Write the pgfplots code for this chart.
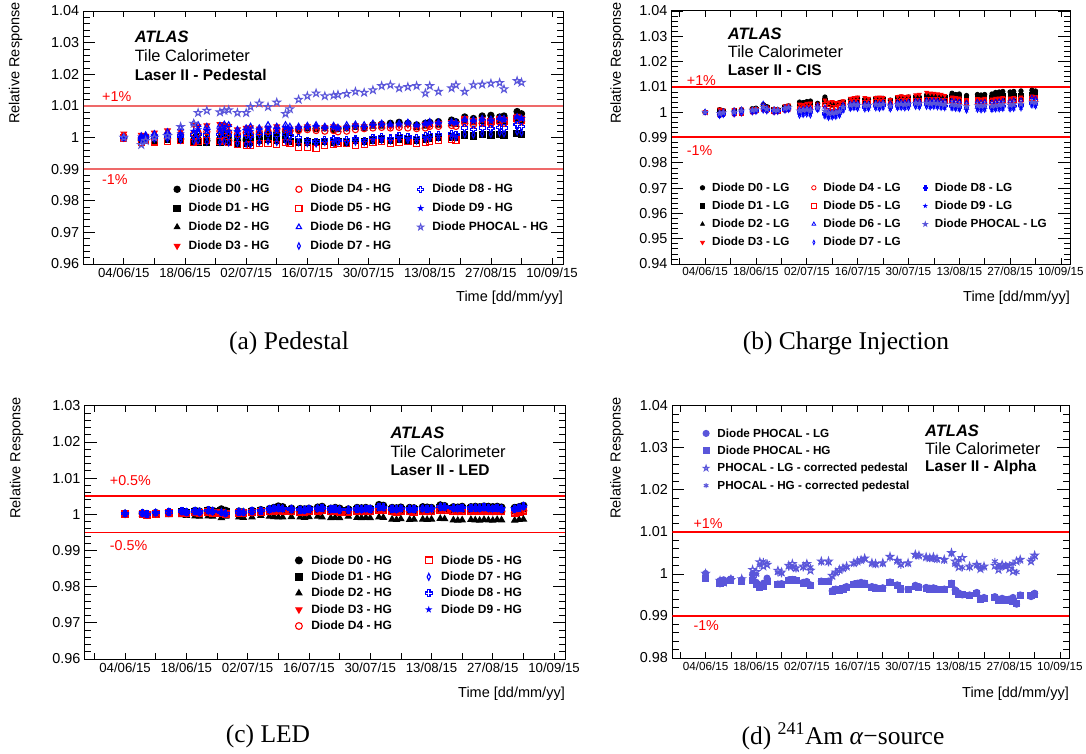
\documentclass[border=0pt]{standalone}
\usepackage{pgfplots}
\pgfplotsset{compat=1.18}
\usepackage{pgfplotstable}
\usepackage{fontspec}
\setmainfont{Liberation Sans}
\newfontfamily\capfont{Liberation Serif}
\newcommand\fs[1]{\fontsize{#1}{#1}\selectfont}

\definecolor{phocal}{RGB}{90,86,218}
\definecolor{limred}{RGB}{238,105,105}
\definecolor{rootred}{RGB}{255,0,0}

% ROOT-like markers: outlined cross, filled cross, filled and open five-point stars
\pgfdeclareplotmark{ocross}{%
  \pgfpathmoveto{\pgfqpoint{-0.35\pgfplotmarksize}{\pgfplotmarksize}}%
  \pgfpathlineto{\pgfqpoint{0.35\pgfplotmarksize}{\pgfplotmarksize}}%
  \pgfpathlineto{\pgfqpoint{0.35\pgfplotmarksize}{0.35\pgfplotmarksize}}%
  \pgfpathlineto{\pgfqpoint{\pgfplotmarksize}{0.35\pgfplotmarksize}}%
  \pgfpathlineto{\pgfqpoint{\pgfplotmarksize}{-0.35\pgfplotmarksize}}%
  \pgfpathlineto{\pgfqpoint{0.35\pgfplotmarksize}{-0.35\pgfplotmarksize}}%
  \pgfpathlineto{\pgfqpoint{0.35\pgfplotmarksize}{-\pgfplotmarksize}}%
  \pgfpathlineto{\pgfqpoint{-0.35\pgfplotmarksize}{-\pgfplotmarksize}}%
  \pgfpathlineto{\pgfqpoint{-0.35\pgfplotmarksize}{-0.35\pgfplotmarksize}}%
  \pgfpathlineto{\pgfqpoint{-\pgfplotmarksize}{-0.35\pgfplotmarksize}}%
  \pgfpathlineto{\pgfqpoint{-\pgfplotmarksize}{0.35\pgfplotmarksize}}%
  \pgfpathlineto{\pgfqpoint{-0.35\pgfplotmarksize}{0.35\pgfplotmarksize}}%
  \pgfpathclose\pgfusepathqstroke}
\pgfdeclareplotmark{focross}{%
  \pgfpathmoveto{\pgfqpoint{-0.35\pgfplotmarksize}{\pgfplotmarksize}}%
  \pgfpathlineto{\pgfqpoint{0.35\pgfplotmarksize}{\pgfplotmarksize}}%
  \pgfpathlineto{\pgfqpoint{0.35\pgfplotmarksize}{0.35\pgfplotmarksize}}%
  \pgfpathlineto{\pgfqpoint{\pgfplotmarksize}{0.35\pgfplotmarksize}}%
  \pgfpathlineto{\pgfqpoint{\pgfplotmarksize}{-0.35\pgfplotmarksize}}%
  \pgfpathlineto{\pgfqpoint{0.35\pgfplotmarksize}{-0.35\pgfplotmarksize}}%
  \pgfpathlineto{\pgfqpoint{0.35\pgfplotmarksize}{-\pgfplotmarksize}}%
  \pgfpathlineto{\pgfqpoint{-0.35\pgfplotmarksize}{-\pgfplotmarksize}}%
  \pgfpathlineto{\pgfqpoint{-0.35\pgfplotmarksize}{-0.35\pgfplotmarksize}}%
  \pgfpathlineto{\pgfqpoint{-\pgfplotmarksize}{-0.35\pgfplotmarksize}}%
  \pgfpathlineto{\pgfqpoint{-\pgfplotmarksize}{0.35\pgfplotmarksize}}%
  \pgfpathlineto{\pgfqpoint{-0.35\pgfplotmarksize}{0.35\pgfplotmarksize}}%
  \pgfpathclose\pgfusepathqfillstroke}
\newcommand\starpath{%
  \pgfpathmoveto{\pgfqpoint{0pt}{\pgfplotmarksize}}%
  \pgfpathlineto{\pgfqpoint{-0.2245\pgfplotmarksize}{0.309\pgfplotmarksize}}%
  \pgfpathlineto{\pgfqpoint{-0.951\pgfplotmarksize}{0.309\pgfplotmarksize}}%
  \pgfpathlineto{\pgfqpoint{-0.363\pgfplotmarksize}{-0.118\pgfplotmarksize}}%
  \pgfpathlineto{\pgfqpoint{-0.588\pgfplotmarksize}{-0.809\pgfplotmarksize}}%
  \pgfpathlineto{\pgfqpoint{0pt}{-0.382\pgfplotmarksize}}%
  \pgfpathlineto{\pgfqpoint{0.588\pgfplotmarksize}{-0.809\pgfplotmarksize}}%
  \pgfpathlineto{\pgfqpoint{0.363\pgfplotmarksize}{-0.118\pgfplotmarksize}}%
  \pgfpathlineto{\pgfqpoint{0.951\pgfplotmarksize}{0.309\pgfplotmarksize}}%
  \pgfpathlineto{\pgfqpoint{0.2245\pgfplotmarksize}{0.309\pgfplotmarksize}}%
  \pgfpathclose}
\pgfdeclareplotmark{fstar}{\starpath\pgfusepathqfillstroke}
\pgfdeclareplotmark{ostar}{\starpath\pgfusepathqstroke}

\tikzset{
  sD0/.style={only marks, black, mark=*},
  sD1/.style={only marks, black, mark=square*},
  sD2/.style={only marks, black, mark=triangle*},
  sD3/.style={only marks, rootred, mark=triangle*, mark options={rotate=180}},
  sD4/.style={only marks, rootred, mark=o},
  sD5/.style={only marks, rootred, mark=square},
  sD6/.style={only marks, blue, mark=triangle},
  sD7/.style={only marks, blue, mark=diamond, mark options={xscale=0.65}},
  sD8/.style={only marks, blue, mark=ocross},
  sD8f/.style={only marks, blue, mark=focross},
  sD9/.style={only marks, blue, mark=fstar},
  sPHo/.style={only marks, phocal, mark=ostar},
  sPHf/.style={only marks, phocal, mark=fstar},
  sPc/.style={only marks, phocal, mark=*},
  sPs/.style={only marks, phocal, mark=square*},
  sPa/.style={only marks, phocal, mark=asterisk},
  limitline/.style={draw=rootred, line width=1.6pt, mark=none},
}

\pgfplotsset{
  atlas/.style={
    scale only axis, enlargelimits=false, clip=true,
    xmin=-9.2, xmax=100.5,
    xtick={0,14,...,98},
    xticklabels={04/06/15,18/06/15,02/07/15,16/07/15,30/07/15,13/08/15,27/08/15,10/09/15},
    minor xtick={-7,0,...,98},
    major x tick style={draw=none},
    minor y tick num=4,
    major tick length=11.7pt, minor tick length=6.3pt,
    tick style={black, line width=0.7pt},
    axis line style={line width=1pt},
    yticklabel style={font=\fs{14.4}, inner sep=0pt, xshift=-4.2pt},
    xticklabel style={inner sep=0pt, anchor=center},
    xlabel={Time [dd/mm/yy]}, ylabel={Relative Response},
    label style={font=\fs{14.5}, inner sep=0pt},
    legend image code/.code={\draw[##1] plot coordinates {(0pt,0pt)};},
    legend style={draw=none, fill=none, inner sep=0pt, outer sep=0pt,
      anchor=north west, cells={anchor=west},
      nodes={inner sep=0pt, text height=0.86em, text depth=0.14em}},
  },
}

% Limit lines: y = 1 +/- 1% and 1 +/- 0.5%
\pgfplotstableread{
x up dn hup hdn
-9.2 1.01 0.99 1.005 0.995
100.5 1.01 0.99 1.005 0.995
}\tabLim

% Pedestal runs, high gain
\pgfplotstableread{
t D0 D1 D2 D3 D4 D5 D6 D7 D8 D9 PH
0 1.0000 1.0000 1.0001 1.0012 1.0003 0.9998 1.0002 0.9999 1.0000 1.0001 1.0000
4 0.9992 0.9990 0.9995 1.0008 0.9998 0.9985 1.0005 0.9990 0.9995 1.0002 0.9977
5 1.0000 0.9994 0.9998 1.0005 1.0002 0.9990 1.0008 0.9993 0.9999 1.0004 0.9990
7 0.9996 0.9991 0.9999 1.0015 1.0004 0.9986 1.0012 0.9995 1.0002 1.0006 1.0000
10 0.9998 0.9994 1.0003 1.0022 1.0010 0.9988 1.0018 0.9996 1.0005 1.0010 1.0005
13 0.9995 0.9990 1.0002 1.0020 1.0008 0.9990 1.0030 0.9992 1.0005 1.0012 1.0034
16 0.9990 0.9985 1.0000 1.0040 1.0012 0.9985 1.0045 0.9988 1.0008 1.0020 1.0044
17 0.9992 0.9986 1.0003 1.0035 1.0015 0.9988 1.0040 0.9990 1.0010 1.0025 1.0078
19 0.9990 0.9984 1.0002 1.0038 1.0018 0.9990 1.0035 0.9986 1.0008 1.0022 1.0085
22 0.9988 0.9985 1.0005 1.0042 1.0020 0.9987 1.0038 0.9985 1.0010 1.0025 1.0080
23 0.9992 0.9988 1.0008 1.0040 1.0022 0.9990 1.0042 0.9988 1.0012 1.0028 1.0085
24 0.9990 0.9984 1.0004 1.0036 1.0016 0.9985 1.0040 0.9984 1.0006 1.0020 1.0087
26 0.9988 0.9980 1.0000 1.0025 1.0010 0.9978 1.0025 0.9982 1.0004 1.0018 1.0078
28 0.9992 0.9982 1.0003 1.0030 1.0015 0.9975 1.0030 0.9980 1.0006 1.0022 1.0078
29 1.0000 0.9985 1.0005 1.0032 1.0012 0.9976 1.0035 0.9978 1.0005 1.0020 1.0097
31 1.0010 0.9990 1.0008 1.0028 1.0018 0.9980 1.0030 0.9985 1.0010 1.0025 1.0108
33 1.0015 0.9995 1.0010 1.0030 1.0020 0.9982 1.0040 0.9988 1.0012 1.0028 1.0097
35 1.0015 0.9990 1.0010 1.0035 1.0025 0.9978 1.0035 0.9985 1.0008 1.0026 1.0111
37 1.0020 0.9995 1.0015 1.0030 1.0025 0.9985 1.0040 0.9990 1.0010 1.0030 1.0075
38 1.0022 0.9988 1.0012 1.0028 1.0020 0.9980 1.0035 0.9988 1.0006 1.0026 1.0090
40 1.0025 0.9985 1.0030 1.0030 1.0022 0.9970 1.0035 0.9984 1.0000 1.0030 1.0120
42 1.0030 0.9986 1.0028 1.0035 1.0025 0.9968 1.0038 0.9982 0.9990 1.0032 1.0131
44 1.0028 0.9984 1.0032 1.0030 1.0022 0.9965 1.0040 0.9980 0.9988 1.0035 1.0140
46 1.0030 0.9988 1.0028 1.0032 1.0020 0.9975 1.0035 0.9985 0.9992 1.0030 1.0131
48 1.0025 0.9985 1.0030 1.0035 1.0022 0.9978 1.0038 0.9984 0.9995 1.0032 1.0133
49 1.0028 0.9988 1.0025 1.0030 1.0018 0.9980 1.0032 0.9986 0.9990 1.0028 1.0135
51 1.0030 0.9985 1.0030 1.0032 1.0020 0.9982 1.0040 0.9984 0.9992 1.0030 1.0138
53 1.0035 0.9990 1.0032 1.0038 1.0025 0.9975 1.0042 0.9986 0.9995 1.0035 1.0145
55 1.0032 0.9988 1.0028 1.0035 1.0028 0.9978 1.0040 0.9985 0.9990 1.0032 1.0142
57 1.0040 0.9992 1.0035 1.0040 1.0030 0.9985 1.0045 0.9990 1.0000 1.0038 1.0150
59 1.0042 0.9995 1.0035 1.0042 1.0032 0.9988 1.0045 0.9992 1.0002 1.0040 1.0163
61 1.0045 0.9990 1.0040 1.0035 1.0030 0.9982 1.0042 0.9990 0.9998 1.0040 1.0166
63 1.0048 0.9995 1.0042 1.0038 1.0032 0.9985 1.0045 0.9995 1.0005 1.0042 1.0156
65 1.0045 0.9992 1.0040 1.0040 1.0030 0.9988 1.0048 0.9992 1.0002 1.0045 1.0160
67 1.0040 0.9990 1.0030 1.0035 1.0028 0.9980 1.0040 0.9990 1.0000 1.0038 1.0163
69 1.0045 0.9995 1.0035 1.0042 1.0030 0.9985 1.0045 0.9995 1.0005 1.0042 1.0140
70 1.0048 0.9998 1.0040 1.0040 1.0035 0.9988 1.0050 0.9998 1.0008 1.0045 1.0163
72 1.0050 1.0000 1.0038 1.0045 1.0035 0.9990 1.0048 1.0000 1.0010 1.0045 1.0145
75 1.0055 1.0002 1.0042 1.0048 1.0038 0.9995 1.0050 1.0002 1.0012 1.0048 1.0156
76 1.0050 1.0000 1.0040 1.0045 1.0035 0.9992 1.0048 1.0000 1.0010 1.0045 1.0166
78 1.0065 1.0008 1.0050 1.0060 1.0045 1.0055 1.0058 1.0010 1.0030 1.0055 1.0145
80 1.0060 1.0005 1.0045 1.0055 1.0040 1.0050 1.0055 1.0008 1.0025 1.0052 1.0166
82 1.0068 1.0010 1.0050 1.0058 1.0045 1.0048 1.0060 1.0012 1.0030 1.0055 1.0168
84 1.0070 1.0008 1.0048 1.0055 1.0042 1.0050 1.0058 1.0010 1.0028 1.0052 1.0171
86 1.0065 1.0010 1.0052 1.0060 1.0048 1.0055 1.0062 1.0015 1.0032 1.0058 1.0173
87 1.0068 1.0008 1.0050 1.0058 1.0045 1.0052 1.0060 1.0012 1.0030 1.0055 1.0153
90 1.0082 1.0012 1.0055 1.0068 1.0055 1.0060 1.0065 1.0018 1.0040 1.0065 1.0179
91 1.0075 1.0010 1.0050 1.0062 1.0050 1.0055 1.0060 1.0015 1.0035 1.0060 1.0174
}\tabA

% Charge injection runs, low gain
\pgfplotstableread{
t D0 D1 D2 D3 D4 D5 D6 D7 D8 D9 PH
0 1.0000 1.0000 1.0000 1.0002 0.9998 0.9999 1.0003 0.9999 1.0001 1.0000 1.0000
4 1.0010 1.0008 1.0005 1.0012 0.9988 0.9992 1.0000 0.9984 0.9990 0.9988 0.9995
5 1.0006 1.0004 1.0002 1.0008 0.9992 0.9996 1.0004 0.9988 0.9994 0.9992 0.9998
8 1.0008 1.0006 1.0004 1.0010 0.9992 0.9995 1.0008 0.9990 0.9998 0.9994 1.0000
10 1.0010 1.0008 1.0006 1.0012 0.9994 0.9998 1.0012 0.9994 1.0004 0.9998 1.0005
13 1.0014 1.0010 1.0008 1.0012 1.0000 1.0002 1.0010 0.9998 1.0006 1.0002 1.0008
14 1.0016 1.0012 1.0010 1.0014 1.0004 1.0006 1.0008 1.0000 1.0008 1.0004 1.0010
16 1.0030 1.0025 1.0020 1.0028 1.0010 1.0015 1.0035 1.0005 1.0015 1.0010 1.0020
17 1.0022 1.0018 1.0014 1.0020 1.0006 1.0010 1.0018 1.0002 1.0010 1.0006 1.0012
19 1.0012 1.0010 1.0008 1.0014 1.0000 1.0004 1.0012 0.9998 1.0006 1.0002 1.0008
20 1.0010 1.0008 1.0006 1.0012 1.0002 1.0004 1.0010 1.0000 1.0006 1.0004 1.0008
22 1.0022 1.0018 1.0015 1.0025 1.0008 1.0012 1.0020 1.0005 1.0012 1.0008 1.0015
23 1.0025 1.0020 1.0018 1.0028 1.0010 1.0015 1.0022 1.0008 1.0014 1.0010 1.0018
26 1.0040 1.0035 1.0030 1.0032 1.0010 1.0015 1.0012 0.9985 1.0000 0.9990 1.0005
27 1.0038 1.0032 1.0028 1.0030 1.0012 1.0018 1.0015 0.9988 1.0003 0.9992 1.0008
28 1.0042 1.0036 1.0030 1.0035 1.0015 1.0020 1.0018 0.9990 1.0005 0.9995 1.0010
29 1.0044 1.0038 1.0032 1.0036 1.0014 1.0018 1.0016 0.9986 1.0002 0.9992 1.0006
31 1.0035 1.0030 1.0025 1.0032 1.0018 1.0020 1.0028 1.0008 1.0015 1.0010 1.0018
33 1.0060 1.0045 1.0040 1.0048 1.0025 1.0030 1.0020 0.9982 0.9995 0.9985 1.0005
34 1.0035 1.0032 1.0028 1.0040 1.0015 1.0022 1.0005 0.9976 0.9988 0.9980 0.9995
35 1.0036 1.0030 1.0025 1.0042 1.0012 1.0020 1.0002 0.9978 0.9990 0.9982 0.9996
36 1.0034 1.0030 1.0026 1.0038 1.0014 1.0018 1.0005 0.9980 0.9992 0.9984 0.9998
37 1.0038 1.0034 1.0030 1.0040 1.0018 1.0024 1.0010 0.9985 0.9996 0.9988 1.0002
38 1.0040 1.0036 1.0032 1.0045 1.0025 1.0030 1.0030 1.0005 1.0015 1.0008 1.0020
40 1.0050 1.0045 1.0040 1.0055 1.0030 1.0038 1.0035 1.0012 1.0022 1.0015 1.0028
41 1.0052 1.0046 1.0042 1.0058 1.0032 1.0040 1.0038 1.0015 1.0025 1.0018 1.0030
42 1.0055 1.0048 1.0044 1.0060 1.0030 1.0040 1.0036 1.0012 1.0022 1.0016 1.0028
44 1.0052 1.0046 1.0040 1.0058 1.0028 1.0038 1.0035 1.0010 1.0020 1.0014 1.0026
45 1.0050 1.0045 1.0042 1.0055 1.0030 1.0036 1.0034 1.0012 1.0022 1.0015 1.0027
47 1.0055 1.0050 1.0044 1.0058 1.0032 1.0040 1.0038 1.0014 1.0024 1.0018 1.0030
48 1.0052 1.0048 1.0042 1.0060 1.0030 1.0038 1.0036 1.0012 1.0022 1.0016 1.0028
49 1.0055 1.0050 1.0045 1.0058 1.0034 1.0042 1.0040 1.0016 1.0026 1.0020 1.0032
51 1.0048 1.0044 1.0040 1.0050 1.0028 1.0035 1.0035 1.0010 1.0020 1.0014 1.0025
53 1.0058 1.0052 1.0046 1.0062 1.0035 1.0042 1.0040 1.0015 1.0025 1.0018 1.0030
54 1.0060 1.0054 1.0048 1.0065 1.0036 1.0044 1.0042 1.0016 1.0026 1.0020 1.0032
55 1.0058 1.0052 1.0046 1.0062 1.0034 1.0042 1.0040 1.0014 1.0024 1.0018 1.0030
56 1.0060 1.0055 1.0048 1.0064 1.0036 1.0044 1.0042 1.0016 1.0026 1.0020 1.0032
58 1.0062 1.0056 1.0050 1.0068 1.0040 1.0046 1.0045 1.0020 1.0030 1.0024 1.0035
59 1.0060 1.0054 1.0048 1.0070 1.0038 1.0045 1.0044 1.0018 1.0028 1.0022 1.0034
61 1.0068 1.0060 1.0054 1.0078 1.0042 1.0050 1.0048 1.0020 1.0030 1.0024 1.0036
62 1.0065 1.0058 1.0052 1.0075 1.0040 1.0048 1.0046 1.0018 1.0028 1.0022 1.0034
63 1.0066 1.0060 1.0054 1.0074 1.0042 1.0050 1.0048 1.0020 1.0030 1.0024 1.0036
64 1.0064 1.0058 1.0052 1.0072 1.0040 1.0048 1.0046 1.0018 1.0028 1.0022 1.0034
65 1.0065 1.0058 1.0050 1.0070 1.0040 1.0046 1.0045 1.0016 1.0026 1.0020 1.0032
66 1.0062 1.0056 1.0050 1.0066 1.0038 1.0045 1.0044 1.0015 1.0025 1.0018 1.0030
68 1.0075 1.0062 1.0054 1.0060 1.0040 1.0048 1.0046 1.0014 1.0024 1.0016 1.0030
69 1.0070 1.0060 1.0052 1.0058 1.0038 1.0046 1.0044 1.0012 1.0022 1.0015 1.0028
70 1.0072 1.0060 1.0050 1.0056 1.0036 1.0044 1.0042 1.0010 1.0020 1.0012 1.0026
72 1.0066 1.0055 1.0046 1.0050 1.0032 1.0040 1.0038 1.0005 1.0016 1.0008 1.0022
75 1.0070 1.0058 1.0048 1.0054 1.0036 1.0044 1.0042 1.0008 1.0020 1.0012 1.0026
76 1.0068 1.0056 1.0046 1.0052 1.0034 1.0042 1.0040 1.0006 1.0018 1.0010 1.0024
77 1.0070 1.0058 1.0050 1.0055 1.0036 1.0044 1.0042 1.0008 1.0020 1.0012 1.0026
79 1.0072 1.0058 1.0048 1.0052 1.0034 1.0042 1.0040 1.0008 1.0018 1.0010 1.0024
80 1.0078 1.0062 1.0050 1.0055 1.0036 1.0044 1.0042 1.0010 1.0020 1.0012 1.0026
81 1.0080 1.0064 1.0052 1.0056 1.0038 1.0046 1.0044 1.0010 1.0022 1.0014 1.0028
82 1.0082 1.0065 1.0052 1.0058 1.0040 1.0048 1.0046 1.0012 1.0024 1.0015 1.0030
84 1.0080 1.0064 1.0050 1.0056 1.0038 1.0046 1.0044 1.0010 1.0022 1.0014 1.0028
85 1.0082 1.0066 1.0054 1.0058 1.0040 1.0048 1.0048 1.0012 1.0024 1.0016 1.0030
87 1.0084 1.0066 1.0054 1.0060 1.0042 1.0050 1.0048 1.0014 1.0026 1.0018 1.0032
90 1.0087 1.0070 1.0058 1.0064 1.0048 1.0055 1.0058 1.0025 1.0035 1.0028 1.0040
91 1.0084 1.0068 1.0056 1.0062 1.0046 1.0052 1.0055 1.0022 1.0032 1.0025 1.0038
}\tabB

% LED runs, high gain
\pgfplotstableread{
t D0 D1 D2 D3 D4 D5 D7 D8 D9
0 1.0002 1.0001 1.0000 1.0001 1.0001 1.0000 1.0002 1.0002 1.0002
4 1.0003 1.0002 1.0000 1.0002 1.0001 1.0001 1.0003 1.0003 1.0003
5 1.0000 0.9999 0.9997 0.9999 0.9998 0.9998 1.0000 1.0000 1.0000
7 1.0004 1.0002 0.9996 1.0002 1.0001 1.0001 1.0004 1.0005 1.0004
10 1.0006 1.0004 0.9998 1.0004 1.0003 1.0003 1.0006 1.0006 1.0007
13 1.0008 1.0006 0.9998 1.0006 1.0004 1.0004 1.0008 1.0009 1.0008
14 1.0006 1.0004 0.9996 1.0003 1.0002 1.0002 1.0006 1.0006 1.0005
16 1.0010 1.0007 0.9995 1.0006 1.0005 1.0005 1.0008 1.0009 1.0008
17 1.0008 1.0005 0.9994 1.0004 1.0003 1.0003 1.0006 1.0006 1.0007
19 1.0012 1.0008 0.9995 1.0007 1.0006 1.0006 1.0010 1.0011 1.0010
20 1.0010 1.0006 0.9994 1.0005 1.0004 1.0004 1.0008 1.0008 1.0009
22 1.0014 1.0008 0.9990 1.0006 1.0004 1.0004 1.0006 1.0005 1.0006
23 1.0010 1.0006 0.9994 1.0002 1.0000 1.0001 1.0003 1.0002 1.0003
26 1.0008 1.0005 0.9992 1.0005 1.0004 1.0004 1.0007 1.0006 1.0007
27 1.0006 1.0004 0.9991 1.0004 1.0003 1.0003 1.0006 1.0005 1.0006
29 1.0010 1.0006 0.9992 1.0006 1.0005 1.0005 1.0008 1.0008 1.0009
31 1.0012 1.0008 0.9996 1.0007 1.0006 1.0006 1.0010 1.0010 1.0010
33 1.0015 1.0010 0.9994 1.0010 1.0008 1.0008 1.0013 1.0014 1.0013
34 1.0018 1.0012 0.9993 1.0012 1.0010 1.0010 1.0016 1.0016 1.0017
35 1.0022 1.0014 0.9992 1.0013 1.0011 1.0011 1.0017 1.0018 1.0017
36 1.0020 1.0013 0.9992 1.0012 1.0010 1.0010 1.0016 1.0016 1.0015
38 1.0016 1.0010 0.9993 1.0010 1.0008 1.0008 1.0014 1.0014 1.0014
40 1.0015 1.0010 0.9992 1.0009 1.0007 1.0007 1.0013 1.0013 1.0012
41 1.0014 1.0009 0.9991 1.0008 1.0006 1.0006 1.0012 1.0012 1.0012
42 1.0016 1.0011 0.9993 1.0010 1.0008 1.0008 1.0014 1.0015 1.0014
44 1.0019 1.0013 0.9994 1.0012 1.0010 1.0010 1.0016 1.0016 1.0017
45 1.0021 1.0014 0.9992 1.0013 1.0011 1.0011 1.0017 1.0017 1.0017
47 1.0016 1.0011 0.9990 1.0010 1.0008 1.0008 1.0014 1.0014 1.0013
48 1.0018 1.0012 0.9991 1.0011 1.0009 1.0009 1.0015 1.0015 1.0015
49 1.0016 1.0010 0.9990 1.0009 1.0007 1.0007 1.0013 1.0013 1.0014
51 1.0014 1.0010 0.9994 1.0009 1.0007 1.0007 1.0013 1.0013 1.0013
53 1.0018 1.0012 0.9991 1.0011 1.0009 1.0009 1.0015 1.0015 1.0016
54 1.0017 1.0012 0.9990 1.0010 1.0008 1.0008 1.0014 1.0014 1.0014
55 1.0018 1.0013 0.9991 1.0011 1.0009 1.0009 1.0015 1.0016 1.0015
56 1.0016 1.0011 0.9990 1.0010 1.0008 1.0008 1.0014 1.0014 1.0014
58 1.0026 1.0018 0.9992 1.0015 1.0013 1.0013 1.0020 1.0021 1.0020
59 1.0024 1.0016 0.9991 1.0014 1.0012 1.0012 1.0019 1.0019 1.0019
61 1.0018 1.0012 0.9986 1.0010 1.0008 1.0008 1.0015 1.0015 1.0016
62 1.0017 1.0011 0.9985 1.0009 1.0007 1.0007 1.0014 1.0014 1.0014
63 1.0019 1.0013 0.9987 1.0011 1.0009 1.0009 1.0016 1.0016 1.0016
65 1.0018 1.0012 0.9985 1.0010 1.0008 1.0008 1.0015 1.0015 1.0015
66 1.0017 1.0011 0.9986 1.0009 1.0007 1.0007 1.0014 1.0015 1.0014
68 1.0020 1.0013 0.9986 1.0011 1.0009 1.0009 1.0016 1.0016 1.0017
69 1.0019 1.0012 0.9985 1.0010 1.0008 1.0008 1.0015 1.0015 1.0015
70 1.0018 1.0012 0.9986 1.0010 1.0008 1.0008 1.0015 1.0016 1.0015
72 1.0025 1.0018 0.9988 1.0015 1.0013 1.0013 1.0021 1.0021 1.0022
73 1.0023 1.0016 0.9987 1.0014 1.0012 1.0012 1.0020 1.0020 1.0020
75 1.0020 1.0014 0.9984 1.0011 1.0009 1.0009 1.0017 1.0017 1.0018
76 1.0019 1.0013 0.9983 1.0010 1.0008 1.0008 1.0016 1.0016 1.0016
77 1.0021 1.0014 0.9984 1.0011 1.0009 1.0009 1.0017 1.0018 1.0017
79 1.0020 1.0014 0.9985 1.0011 1.0009 1.0009 1.0017 1.0017 1.0017
80 1.0021 1.0015 0.9984 1.0012 1.0010 1.0010 1.0018 1.0018 1.0019
81 1.0020 1.0014 0.9983 1.0011 1.0009 1.0009 1.0017 1.0017 1.0017
82 1.0022 1.0015 0.9985 1.0012 1.0010 1.0010 1.0018 1.0019 1.0018
83 1.0021 1.0014 0.9984 1.0011 1.0009 1.0009 1.0017 1.0017 1.0017
84 1.0020 1.0013 0.9983 1.0010 1.0008 1.0008 1.0016 1.0016 1.0016
85 1.0021 1.0014 0.9985 1.0011 1.0009 1.0009 1.0017 1.0017 1.0018
86 1.0019 1.0013 0.9984 1.0010 1.0008 1.0008 1.0015 1.0015 1.0015
89 1.0018 1.0012 0.9983 1.0006 1.0004 1.0004 1.0015 1.0015 1.0015
90 1.0020 1.0014 0.9985 1.0008 1.0006 1.0006 1.0018 1.0018 1.0019
91 1.0024 1.0016 0.9986 1.0012 1.0010 1.0010 1.0022 1.0022 1.0022
}\tabC

% Alpha-source runs, PHOCAL diode
\pgfplotstableread{
t LG HG LGc HGc
0 1.0001 0.9990 1.0001 0.9990
4 0.9984 0.9978 0.9984 0.9976
5 0.9986 0.9980 0.9980 0.9984
7 0.9988 0.9984 0.9986 0.9990
10 0.9986 0.9981 0.9988 0.9982
13 0.9998 0.9985 1.0010 1.0000
14 0.9980 0.9975 1.0005 0.9998
15 0.9972 0.9968 1.0028 1.0020
16 0.9978 0.9970 1.0018 1.0030
17 0.9990 0.9982 1.0022 1.0026
20 0.9976 0.9974 1.0008 1.0002
21 0.9977 0.9975 1.0004 1.0000
23 0.9986 0.9985 1.0020 1.0016
24 0.9987 0.9986 1.0024 1.0015
25 0.9985 0.9984 1.0014 1.0012
27 0.9980 0.9978 1.0018 1.0014
28 0.9982 0.9980 1.0024 1.0022
29 0.9974 0.9972 1.0008 1.0016
32 0.9983 0.9982 1.0030 1.0028
34 0.9983 0.9982 1.0030 1.0026
35 0.9960 0.9958 0.9996 0.9992
36 0.9964 0.9962 1.0004 1.0002
37 0.9962 0.9960 1.0010 1.0006
38 0.9966 0.9964 1.0014 1.0012
39 0.9970 0.9968 1.0018 1.0016
41 0.9976 0.9974 1.0026 1.0024
42 0.9978 0.9976 1.0030 1.0028
43 0.9980 0.9978 1.0033 1.0032
44 0.9978 0.9976 1.0037 1.0035
46 0.9970 0.9968 1.0026 1.0024
47 0.9968 0.9966 1.0024 1.0022
49 0.9967 0.9965 1.0026 1.0024
51 0.9981 0.9980 1.0041 1.0038
53 0.9974 0.9972 1.0032 1.0030
54 0.9966 0.9964 1.0024 1.0020
56 0.9963 0.9962 1.0026 1.0024
58 0.9973 0.9971 1.0046 1.0044
59 0.9970 0.9968 1.0044 1.0042
61 0.9968 0.9966 1.0040 1.0038
62 0.9966 0.9964 1.0038 1.0036
63 0.9967 0.9965 1.0040 1.0037
64 0.9964 0.9962 1.0036 1.0034
66 0.9964 0.9962 1.0034 1.0032
68 0.9978 0.9976 1.0050 1.0048
69 0.9962 0.9958 1.0030 1.0022
70 0.9955 0.9952 1.0016 1.0032
71 0.9950 0.9952 1.0038 1.0014
73 0.9950 0.9948 1.0018 1.0014
75 0.9956 0.9954 1.0022 1.0020
76 0.9942 0.9940 1.0012 1.0014
77 0.9944 0.9942 1.0018 1.0016
80 0.9946 0.9944 1.0020 1.0030
81 0.9940 0.9938 1.0010 1.0018
82 0.9942 0.9940 1.0022 1.0016
83 0.9939 0.9937 1.0018 1.0020
84 0.9940 0.9938 1.0012 1.0022
85 0.9944 0.9935 1.0006 1.0024
86 0.9928 0.9930 1.0030 1.0004
87 0.9950 0.9948 1.0034 1.0032
90 0.9946 0.9948 1.0030 1.0034
91 0.9954 0.9952 1.0044 1.0040
}\tabD

\begin{document}
\begin{tikzpicture}
\useasboundingbox (0pt,0pt) rectangle (1086pt,-754pt);

% ---------------- (a) Pedestal ----------------
\begin{axis}[atlas, at={(83.6pt,-264pt)}, anchor=south west,
  width=479.4pt, height=253pt,
  ymin=0.96, ymax=1.04,
  ytick={0.96,0.97,0.98,0.99,1,1.01,1.02,1.03,1.04},
  yticklabels={0.96,0.97,0.98,0.99,1,1.01,1.02,1.03,1.04},
  xticklabel style={font=\fs{13.2}, yshift=-8.3pt},
  xlabel style={at={(axis description cs:1,-0.1344)}, anchor=east},
  ylabel style={at={(axis description cs:-0.1418,1.0356)}, anchor=east},
  every axis plot/.append style={mark size=3.1pt, line width=1.1pt},
  legend columns=3,
  legend style={at={(axis description cs:0.1886,0.315)}, font=\bfseries\fs{12},
    row sep=8.9pt, mark size=2.4pt, line width=1pt,
    /tikz/every odd column/.style={column sep=8.5pt},
    /tikz/every even column/.style={column sep=26.4pt}},
]
\addplot[limitline, draw=limred, line width=1.7pt, forget plot] table[x=x, y=up] {\tabLim};
\addplot[limitline, draw=limred, line width=1.7pt, forget plot] table[x=x, y=dn] {\tabLim};
\addplot[sD0, forget plot] table[x=t, y=D0] {\tabA};
\addplot[sD1, forget plot] table[x=t, y=D1] {\tabA};
\addplot[sD2, forget plot] table[x=t, y=D2] {\tabA};
\addplot[sD3, forget plot] table[x=t, y=D3] {\tabA};
\addplot[sD4, forget plot] table[x=t, y=D4] {\tabA};
\addplot[sD5, forget plot] table[x=t, y=D5] {\tabA};
\addplot[sD6, forget plot] table[x=t, y=D6] {\tabA};
\addplot[sD7, forget plot] table[x=t, y=D7] {\tabA};
\addplot[sD8, forget plot] table[x=t, y=D8] {\tabA};
\addplot[sD9, mark size=2.5pt, forget plot] table[x=t, y=D9] {\tabA};
\addplot[sPHo, mark size=3.8pt, forget plot] table[x=t, y=PH] {\tabA};
\addlegendimage{sD0}\addlegendentry{Diode D0 - HG}
\addlegendimage{sD4}\addlegendentry{Diode D4 - HG}
\addlegendimage{sD8}\addlegendentry{Diode D8 - HG}
\addlegendimage{sD1}\addlegendentry{Diode D1 - HG}
\addlegendimage{sD5}\addlegendentry{Diode D5 - HG}
\addlegendimage{sD9, mark size=2pt}\addlegendentry{Diode D9 - HG}
\addlegendimage{sD2}\addlegendentry{Diode D2 - HG}
\addlegendimage{sD6}\addlegendentry{Diode D6 - HG}
\addlegendimage{sPHo, mark size=3pt}\addlegendentry{Diode PHOCAL - HG}
\addlegendimage{sD3}\addlegendentry{Diode D3 - HG}
\addlegendimage{sD7}\addlegendentry{Diode D7 - HG}
\end{axis}

% ---------------- (b) Charge injection ----------------
\begin{axis}[atlas, at={(671.7pt,-264pt)}, anchor=south west,
  width=398.3pt, height=253pt,
  ymin=0.94, ymax=1.04,
  ytick={0.94,0.95,0.96,0.97,0.98,0.99,1,1.01,1.02,1.03,1.04},
  yticklabels={0.94,0.95,0.96,0.97,0.98,0.99,1,1.01,1.02,1.03,1.04},
  xticklabel style={font=\fs{11.7}, yshift=-7.7pt},
  xlabel style={at={(axis description cs:1,-0.1344)}, anchor=east},
  ylabel style={at={(axis description cs:-0.1373,1.0356)}, anchor=east},
  every axis plot/.append style={mark size=2.2pt, line width=0.8pt},
  legend columns=3,
  legend style={at={(axis description cs:0.0718,0.321)}, font=\bfseries\fs{11.7},
    row sep=8.2pt, mark size=1.8pt, line width=0.8pt,
    /tikz/every odd column/.style={column sep=7.4pt},
    /tikz/every even column/.style={column sep=22.2pt}},
]
\addplot[limitline, line width=2pt, forget plot] table[x=x, y=dn] {\tabLim};
\addplot[limitline, forget plot] table[x=x, y=up] {\tabLim};
\addplot[sD0, forget plot] table[x=t, y=D0] {\tabB};
\addplot[sD1, forget plot] table[x=t, y=D1] {\tabB};
\addplot[sD2, forget plot] table[x=t, y=D2] {\tabB};
\addplot[sD3, forget plot] table[x=t, y=D3] {\tabB};
\addplot[sD4, forget plot] table[x=t, y=D4] {\tabB};
\addplot[sD5, forget plot] table[x=t, y=D5] {\tabB};
\addplot[sD6, forget plot] table[x=t, y=D6] {\tabB};
\addplot[sD7, forget plot] table[x=t, y=D7] {\tabB};
\addplot[sD8f, forget plot] table[x=t, y=D8] {\tabB};
\addplot[sD9, mark size=1.8pt, forget plot] table[x=t, y=D9] {\tabB};
\addplot[sPHf, mark size=2.8pt, forget plot] table[x=t, y=PH] {\tabB};
\addlegendimage{sD0}\addlegendentry{Diode D0 - LG}
\addlegendimage{sD4}\addlegendentry{Diode D4 - LG}
\addlegendimage{sD8f}\addlegendentry{Diode D8 - LG}
\addlegendimage{sD1}\addlegendentry{Diode D1 - LG}
\addlegendimage{sD5}\addlegendentry{Diode D5 - LG}
\addlegendimage{sD9, mark size=1.4pt}\addlegendentry{Diode D9 - LG}
\addlegendimage{sD2}\addlegendentry{Diode D2 - LG}
\addlegendimage{sD6}\addlegendentry{Diode D6 - LG}
\addlegendimage{sPHf, mark size=2.4pt}\addlegendentry{Diode PHOCAL - LG}
\addlegendimage{sD3}\addlegendentry{Diode D3 - LG}
\addlegendimage{sD7}\addlegendentry{Diode D7 - LG}
\end{axis}

% ---------------- (c) LED ----------------
\begin{axis}[atlas, at={(84.8pt,-659pt)}, anchor=south west,
  width=480.2pt, height=253.3pt,
  ymin=0.96, ymax=1.03,
  ytick={0.96,0.97,0.98,0.99,1,1.01,1.02,1.03},
  yticklabels={0.96,0.97,0.98,0.99,1,1.01,1.02,1.03},
  xticklabel style={font=\fs{13.2}, yshift=-8.3pt},
  xlabel style={at={(axis description cs:1,-0.1382)}, anchor=east},
  ylabel style={at={(axis description cs:-0.1418,1.0355)}, anchor=east},
  every axis plot/.append style={mark size=3.4pt, line width=1.1pt},
  legend columns=2,
  legend style={at={(axis description cs:0.4388,0.409)}, font=\bfseries\fs{12},
    row sep=6.4pt, mark size=2.5pt, line width=1pt,
    /tikz/every odd column/.style={column sep=9pt},
    /tikz/every even column/.style={column sep=33.4pt}},
]
\addplot[sD0, forget plot] table[x=t, y=D0] {\tabC};
\addplot[sD1, forget plot] table[x=t, y=D1] {\tabC};
\addplot[sD2, forget plot] table[x=t, y=D2] {\tabC};
\addplot[sD3, forget plot] table[x=t, y=D3] {\tabC};
\addplot[sD4, forget plot] table[x=t, y=D4] {\tabC};
\addplot[sD5, forget plot] table[x=t, y=D5] {\tabC};
\addplot[sD7, forget plot] table[x=t, y=D7] {\tabC};
\addplot[sD8, forget plot] table[x=t, y=D8] {\tabC};
\addplot[sD9, mark size=2.8pt, forget plot] table[x=t, y=D9] {\tabC};
\addplot[limitline, forget plot] table[x=x, y=hup] {\tabLim};
\addplot[limitline, forget plot] table[x=x, y=hdn] {\tabLim};
\addlegendimage{sD0}\addlegendentry{Diode D0 - HG}
\addlegendimage{sD5}\addlegendentry{Diode D5 - HG}
\addlegendimage{sD1}\addlegendentry{Diode D1 - HG}
\addlegendimage{sD7}\addlegendentry{Diode D7 - HG}
\addlegendimage{sD2}\addlegendentry{Diode D2 - HG}
\addlegendimage{sD8}\addlegendentry{Diode D8 - HG}
\addlegendimage{sD3}\addlegendentry{Diode D3 - HG}
\addlegendimage{sD9, mark size=2pt}\addlegendentry{Diode D9 - HG}
\addlegendimage{sD4}\addlegendentry{Diode D4 - HG}
\end{axis}

% ---------------- (d) Alpha source ----------------
\begin{axis}[atlas, at={(672.3pt,-658pt)}, anchor=south west,
  width=396.7pt, height=252.3pt,
  ymin=0.98, ymax=1.04,
  ytick={0.98,0.99,1,1.01,1.02,1.03,1.04},
  yticklabels={0.98,0.99,1,1.01,1.02,1.03,1.04},
  xticklabel style={font=\fs{11.7}, yshift=-8.7pt},
  xlabel style={at={(axis description cs:1,-0.1427)}, anchor=east},
  ylabel style={at={(axis description cs:-0.1397,1.0357)}, anchor=east},
  every axis plot/.append style={mark size=3pt, line width=1.1pt},
  legend columns=1,
  legend style={at={(axis description cs:0.0776,0.91)}, font=\bfseries\fs{11.7},
    row sep=7.4pt, mark size=2.3pt, line width=1pt,
    /tikz/every odd column/.style={column sep=8.4pt}},
]
\addplot[sPc, forget plot] table[x=t, y=LG] {\tabD};
\addplot[sPs, forget plot] table[x=t, y=HG] {\tabD};
\addplot[sPHo, mark size=3.7pt, forget plot] table[x=t, y=LGc] {\tabD};
\addplot[sPa, mark size=3.4pt, forget plot] table[x=t, y=HGc] {\tabD};
\addplot[limitline, forget plot] table[x=x, y=up] {\tabLim};
\addplot[limitline, forget plot] table[x=x, y=dn] {\tabLim};
\addlegendimage{sPc}\addlegendentry{Diode PHOCAL - LG}
\addlegendimage{sPs}\addlegendentry{Diode PHOCAL - HG}
\addlegendimage{sPHo, mark size=2.8pt}\addlegendentry{PHOCAL - LG - corrected pedestal}
\addlegendimage{sPa, mark size=2.6pt}\addlegendentry{PHOCAL - HG - corrected pedestal}
\end{axis}

% ---------------- labels inside the frames ----------------
\begin{scope}[every node/.style={inner sep=0pt, anchor=base west}]
\node[font=\fs{16.5}\bfseries\itshape] at (134.6pt,-42.6pt) {ATLAS};
\node[font=\fs{16.4}] at (134.6pt,-61.9pt) {Tile Calorimeter};
\node[font=\fs{15.5}\bfseries] at (134.6pt,-80.3pt) {Laser II - Pedestal};
\node[font=\fs{14.3}, text=rootred] at (102pt,-101.8pt) {+1\%};
\node[font=\fs{14.3}, text=rootred] at (102pt,-184.4pt) {-1\%};

\node[font=\fs{16.5}\bfseries\itshape] at (727.7pt,-39.2pt) {ATLAS};
\node[font=\fs{16.4}] at (727.7pt,-57.6pt) {Tile Calorimeter};
\node[font=\fs{15.5}\bfseries] at (727.7pt,-75.6pt) {Laser II - CIS};
\node[font=\fs{14.3}, text=rootred] at (686.7pt,-85.1pt) {+1\%};
\node[font=\fs{14.3}, text=rootred] at (686.7pt,-155.1pt) {-1\%};

\node[font=\fs{16.5}\bfseries\itshape] at (390.3pt,-438.2pt) {ATLAS};
\node[font=\fs{16.4}] at (390.3pt,-457.6pt) {Tile Calorimeter};
\node[font=\fs{15.5}\bfseries] at (390.3pt,-475.6pt) {Laser II - LED};
\node[font=\fs{14.3}, text=rootred] at (109.7pt,-485.8pt) {+0.5\%};
\node[font=\fs{14.3}, text=rootred] at (109.7pt,-550.1pt) {-0.5\%};

\node[font=\fs{16.5}\bfseries\itshape] at (925pt,-436.6pt) {ATLAS};
\node[font=\fs{16.4}] at (925pt,-454.2pt) {Tile Calorimeter};
\node[font=\fs{15.5}\bfseries] at (925pt,-471.6pt) {Laser II - Alpha};
\node[font=\fs{14.3}, text=rootred] at (693.3pt,-528.4pt) {+1\%};
\node[font=\fs{14.3}, text=rootred] at (693.3pt,-630.1pt) {-1\%};
\end{scope}

% ---------------- sub-figure captions ----------------
\begin{scope}[every node/.style={inner sep=0pt, anchor=base, font=\capfont\fs{25.5}}]
\node at (289pt,-349pt) {(a) Pedestal};
\node at (846pt,-349pt) {(b) Charge Injection};
\node at (268pt,-742pt) {(c) LED};
\node at (843pt,-744pt) {(d) \textsuperscript{241}Am \textit{α}−source};
\end{scope}
\end{tikzpicture}
\end{document}
